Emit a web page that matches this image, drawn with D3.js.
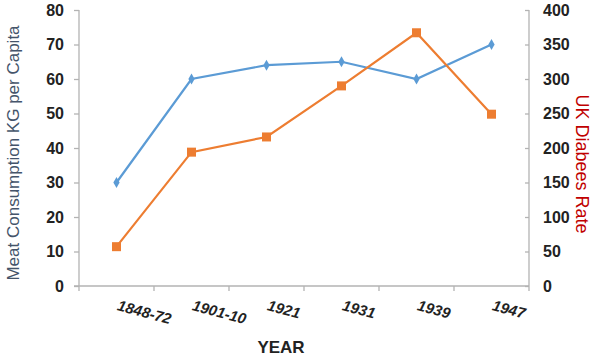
<!DOCTYPE html>
<html>
<head>
<meta charset="utf-8">
<script src="https://cdn.jsdelivr.net/npm/d3@7"></script>
<style>
  body { margin: 0; background: #fff; }
  text { font-family: Arial, "Liberation Sans", sans-serif; }
</style>
</head>
<body>
<div id="chart"></div>
<script>
// data
var years = ["1848-72", "1901-10", "1921", "1931", "1939", "1947"];
var meat = [30, 60, 64, 65, 60, 70];
var diabetes = [57, 194, 216, 290, 367, 249];
var leftTicks = [0, 10, 20, 30, 40, 50, 60, 70, 80];
var rightTicks = [0, 50, 100, 150, 200, 250, 300, 350, 400];

var width = 595, height = 358;
var margin = {top: 10, right: 66, bottom: 72, left: 79};
var w = width - margin.left - margin.right,
    h = height - margin.top - margin.bottom;

var svg = d3.select("#chart")
  .append("svg")
    .attr("width", width)
    .attr("height", height);

var g = svg.append("g")
  .attr("transform", "translate(" + margin.left + "," + margin.top + ")");

var x = d3.scaleBand().domain(years).range([0, w]);
var yL = d3.scaleLinear().domain([0, 80]).range([h, 0]);
var yR = d3.scaleLinear().domain([0, 400]).range([h, 0]);

var axisColor = "#b3b3b3";

// x axis: ticks on band boundaries
var xAxis = g.append("g").attr("transform", "translate(0," + h + ")");
xAxis.append("line")
  .attr("x1", -5).attr("x2", w)
  .attr("stroke", axisColor).attr("stroke-width", 1.3);
xAxis.selectAll(".xt")
  .data(years.map(function(d) { return x(d); }).concat([w]))
  .enter().append("line")
    .attr("x1", function(d) { return d; })
    .attr("x2", function(d) { return d; })
    .attr("y1", 0).attr("y2", 5)
    .attr("stroke", axisColor).attr("stroke-width", 1.3);
xAxis.selectAll(".xl")
  .data(years)
  .enter().append("text")
    .attr("transform", function(d) {
      return "translate(" + (x(d) + x.bandwidth() / 2) + ",24) rotate(15)";
    })
    .attr("font-size", 15)
    .attr("font-weight", "bold")
    .attr("font-style", "italic")
    .attr("fill", "#222")
    .text(function(d) { return d; });

// left axis
var left = g.append("g")
  .call(d3.axisLeft(yL).tickValues(leftTicks).tickSize(5).tickPadding(10));
left.select(".domain").attr("stroke", axisColor).attr("stroke-width", 1.3)
  .attr("d", "M0," + h + "V0");
left.selectAll(".tick line").attr("stroke", axisColor).attr("stroke-width", 1.3);
left.selectAll(".tick text")
  .attr("font-size", 16).attr("font-weight", "bold").attr("fill", "#222")
  .attr("font-family", "Arial, 'Liberation Sans', sans-serif");

// right axis, ticks point inward
var right = g.append("g")
  .attr("transform", "translate(" + w + ",0)")
  .call(d3.axisRight(yR).tickValues(rightTicks).tickSize(0).tickPadding(14));
right.select(".domain").attr("stroke", axisColor).attr("stroke-width", 1.3)
  .attr("d", "M0," + h + "V0");
right.selectAll(".tick").append("line")
  .attr("x1", -4).attr("x2", 0)
  .attr("stroke", axisColor).attr("stroke-width", 1.3);
right.selectAll(".tick text")
  .attr("font-size", 16).attr("font-weight", "bold").attr("fill", "#222")
  .attr("font-family", "Arial, 'Liberation Sans', sans-serif");

// lines
var cx = function(d, i) { return x(years[i]) + x.bandwidth() / 2; };

g.append("path")
  .datum(meat)
  .attr("fill", "none")
  .attr("stroke", "#5b9bd5")
  .attr("stroke-width", 2.2)
  .attr("d", d3.line().x(cx).y(function(d) { return yL(d); }));

g.append("path")
  .datum(diabetes)
  .attr("fill", "none")
  .attr("stroke", "#ed7d31")
  .attr("stroke-width", 2.2)
  .attr("d", d3.line().x(cx).y(function(d) { return yR(d); }));

// markers
g.selectAll(".dia")
  .data(meat)
  .enter().append("path")
    .attr("d", d3.symbol().type(d3.symbolDiamond).size(34))
    .attr("transform", function(d, i) {
      return "translate(" + cx(d, i) + "," + yL(d) + ")";
    })
    .attr("fill", "#5b9bd5");

g.selectAll(".sq")
  .data(diabetes)
  .enter().append("rect")
    .attr("x", function(d, i) { return cx(d, i) - 4.5; })
    .attr("y", function(d) { return yR(d) - 4.5; })
    .attr("width", 9).attr("height", 9)
    .attr("fill", "#ed7d31");

// axis titles
svg.append("text")
  .attr("transform", "translate(19,153) rotate(-90)")
  .attr("text-anchor", "middle")
  .attr("font-size", 17)
  .attr("fill", "#44546a")
  .text("Meat Consumption KG per Capita");

svg.append("text")
  .attr("transform", "translate(576,164) rotate(90)")
  .attr("text-anchor", "middle")
  .attr("font-size", 18)
  .attr("fill", "#c00000")
  .text("UK Diabees Rate");

svg.append("text")
  .attr("x", 281).attr("y", 353)
  .attr("text-anchor", "middle")
  .attr("font-size", 17)
  .attr("font-weight", "bold")
  .attr("fill", "#222")
  .text("YEAR");
</script>
</body>
</html>
